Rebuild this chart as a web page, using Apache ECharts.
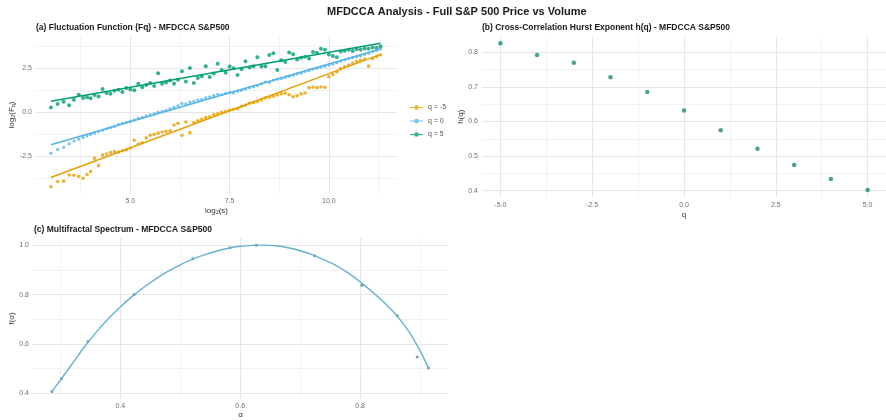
<!DOCTYPE html>
<html><head><meta charset="utf-8">
<script src="https://cdn.jsdelivr.net/npm/echarts@6/dist/echarts.min.js"></script>
<style>html,body{margin:0;padding:0;background:#fff}#c{width:886px;height:420px}</style>
</head><body><div id="c"></div>
<script>
// ---------- Panel (a): fluctuation function ----------
const logS = [3.00,3.17,3.32,3.46,3.58,3.70,3.81,3.91,4.00,4.10,4.20,4.30,4.40,4.50,4.60,4.70,4.80,4.90,5.00,5.10,5.20,5.30,5.40,5.50,5.60,5.70,5.80,5.90,6.00,6.10,6.20,6.30,6.40,6.50,6.60,6.70,6.80,6.90,7.00,7.10,7.20,7.30,7.40,7.50,7.60,7.70,7.80,7.90,8.00,8.10,8.20,8.30,8.40,8.50,8.60,8.70,8.80,8.90,9.00,9.10,9.20,9.30,9.40,9.50,9.60,9.70,9.80,9.90,10.00,10.10,10.20,10.30,10.40,10.50,10.60,10.70,10.80,10.90,11.00,11.10,11.20,11.30];
const fqNeg5 = [-4.22,-3.92,-3.90,-3.55,-3.57,-3.62,-3.74,-3.52,-3.36,
  -2.60,-3.02,-2.42,-2.36,-2.28,-2.22,-2.25,-2.18,-2.12,-2.02,
  -1.58,-1.80,-1.72,-1.45,-1.30,-1.25,-1.18,-1.12,-1.08,-1.05,
  -0.72,-0.62,-1.30,-0.55,-1.15,-0.58,-0.48,-0.40,-0.30,-0.25,
  -0.12,-0.08,0.00,0.05,0.12,0.18,0.22,0.35,0.40,0.52,
  0.55,0.62,0.70,0.82,0.86,0.92,0.98,1.05,1.08,1.00,
  0.88,0.95,1.05,1.10,1.40,1.42,1.40,1.44,1.42,2.02,
  2.15,2.30,2.48,2.60,2.68,2.78,2.90,2.95,3.02,2.62,
  3.05,3.15,3.25];
const fq0 = [-2.32,-2.10,-1.98,-1.78,-1.63,-1.52,-1.42,-1.33,-1.25,
  -1.18,-1.10,-1.02,-0.93,-0.86,-0.80,-0.70,-0.62,-0.56,-0.50,
  -0.42,-0.34,-0.28,-0.20,-0.13,-0.07,0.00,0.05,0.12,0.20,
  0.28,0.38,0.50,0.48,0.58,0.62,0.70,0.74,0.82,0.88,
  0.95,1.02,1.00,1.08,1.12,1.10,1.20,1.25,1.32,1.40,
  1.45,1.52,1.62,1.72,1.70,1.82,1.88,1.92,1.98,2.05,
  2.10,2.18,2.22,2.32,2.38,2.45,2.50,2.56,2.62,2.68,
  2.74,2.82,2.90,2.98,3.05,3.10,3.15,3.20,3.28,3.35,
  3.45,3.52,3.60];
const fq5 = [0.28,0.48,0.60,0.40,0.72,1.00,0.82,0.85,0.80,
  0.98,0.90,1.33,1.10,1.05,1.22,1.28,1.15,1.38,1.30,
  1.25,1.62,1.42,1.55,1.66,1.50,2.22,1.62,1.70,1.80,
  1.62,1.85,2.33,1.75,2.52,1.67,1.95,2.05,2.62,2.00,
  2.20,2.75,2.40,2.25,2.60,2.50,2.12,2.45,2.90,2.55,
  2.62,3.12,2.60,2.62,3.25,3.35,2.40,2.95,2.85,3.40,
  3.30,3.00,3.10,3.15,3.05,3.42,3.38,3.60,3.55,3.28,
  3.20,3.12,3.45,3.50,3.55,3.48,3.58,3.55,3.62,3.60,
  3.68,3.65,3.75];
// fitted regression lines (end points)
const fitX = [3.00, 11.30];
const fitNeg5 = [-3.69, 3.29];
const fit0 = [-1.84, 3.59];
const fit5 = [0.63, 3.92];
const aXTicks = [5, 7.5, 10];
const aXMinor = [3.75, 6.25, 8.75, 11.25];
const aYTicks = [-2.5, 0, 2.5];
const aYMinor = [-3.75, -1.25, 1.25, 3.75];

// ---------- Panel (b): Hurst exponent ----------
const qValues = [-5,-4,-3,-2,-1,0,1,2,3,4,5];
const hq = [0.826,0.792,0.770,0.728,0.685,0.632,0.575,0.521,0.474,0.434,0.402];
const bXTicks = [-5, -2.5, 0, 2.5, 5];
const bXMinor = [-3.75, -1.25, 1.25, 3.75];
const bYTicks = [0.4, 0.5, 0.6, 0.7, 0.8];
const bYMinor = [0.45, 0.55, 0.65, 0.75];

// ---------- Panel (c): multifractal spectrum ----------
const alpha = [0.286,0.302,0.346,0.423,0.521,0.583,0.627,0.724,0.803,0.862,0.895,0.914];
const fAlpha = [0.407,0.460,0.610,0.801,0.946,0.990,1.000,0.958,0.838,0.714,0.547,0.503];
const curveAlpha = [0.286,0.30,0.32,0.34,0.36,0.38,0.40,0.42,0.44,0.46,0.48,0.50,0.52,0.54,0.56,0.58,0.60,0.62,0.64,0.66,0.68,0.70,0.72,0.74,0.76,0.78,0.80,0.82,0.84,0.86,0.88,0.90,0.914];
const curveF = [0.407,0.453,0.520,0.588,0.648,0.702,0.750,0.793,0.831,0.865,0.895,0.921,0.943,0.961,0.976,0.988,0.996,1.000,1.001,0.998,0.990,0.978,0.962,0.941,0.918,0.888,0.852,0.812,0.768,0.718,0.655,0.572,0.503];
const cXTicks = [0.4, 0.6, 0.8];
const cXMinor = [0.3, 0.5, 0.7, 0.9];
const cYTicks = [0.4, 0.6, 0.8, 1.0];
const cYMinor = [0.5, 0.7, 0.9];

const FONT = '"Liberation Sans", Arial, sans-serif';
const MAJOR = '#e6e6e6', MINOR = '#f2f2f2';
const zip = (a, b) => a.map((v, i) => [v, b[i]]);

function axis(grid, min, max, majors, minors, extra) {
  const all = majors.concat(minors).sort((p, q) => p - q);
  const colors = all.map(v => majors.indexOf(v) >= 0 ? MAJOR : MINOR);
  return Object.assign({
    type: 'value', gridIndex: grid, min: min, max: max,
    axisLine: { show: false },
    axisTick: { show: false, customValues: all },
    axisLabel: { customValues: majors, formatter: v => v.toFixed(1), fontSize: 7, color: '#707070', fontFamily: FONT, margin: 4 },
    splitLine: { show: true, lineStyle: { color: colors, width: 1 } },
    nameLocation: 'middle',
    nameTextStyle: { fontSize: 8, color: '#333', fontFamily: FONT }
  }, extra || {});
}

const sub = { fontSize: 5.5, verticalAlign: 'bottom', lineHeight: 9, fontFamily: FONT, color: '#333' };

const chart = echarts.init(document.getElementById('c'), null, { renderer: 'canvas' });
chart.setOption({
  backgroundColor: '#fff',
  animation: false,
  textStyle: { fontFamily: FONT },
  title: [
    { text: 'MFDCCA Analysis - Full S&P 500 Price vs Volume', left: 327, top: 6, padding: 0,
      textStyle: { fontSize: 11, fontWeight: 'bold', color: '#1a1a1a', fontFamily: FONT } },
    { text: '(a) Fluctuation Function (Fq) - MFDCCA S&P500', left: 36, top: 23, padding: 0,
      textStyle: { fontSize: 8.5, fontWeight: 'bold', color: '#1a1a1a', fontFamily: FONT } },
    { text: '(b) Cross-Correlation Hurst Exponent h(q) - MFDCCA S&P500', left: 482, top: 23, padding: 0,
      textStyle: { fontSize: 8.5, fontWeight: 'bold', color: '#1a1a1a', fontFamily: FONT } },
    { text: '(c) Multifractal Spectrum - MFDCCA S&P500', left: 34, top: 225, padding: 0,
      textStyle: { fontSize: 8.5, fontWeight: 'bold', color: '#1a1a1a', fontFamily: FONT } }
  ],
  legend: {
    data: ['q = -5', 'q = 0', 'q = 5'],
    orient: 'vertical', left: 410, top: 104, padding: 0, itemGap: 6.5,
    itemWidth: 13, itemHeight: 6.5,
    icon: 'path://M0,4.3H20V5.7H0Z M13.5,5A3.5,3.5,0,1,1,6.5,5A3.5,3.5,0,1,1,13.5,5Z',
    textStyle: { fontSize: 7, color: '#555', fontFamily: FONT }
  },
  grid: [
    { left: 36, top: 36, width: 361, height: 158 },
    { left: 482, top: 36, width: 413.6, height: 161.3 },
    { left: 33, top: 238, width: 415, height: 163 }
  ],
  xAxis: [
    axis(0, 2.625, 11.715, aXTicks, aXMinor, { name: 'log{s|2}(s)', nameGap: 12,
      nameTextStyle: { fontSize: 8, color: '#333', fontFamily: FONT, rich: { s: sub } } }),
    axis(1, -5.5, 5.5, bXTicks, bXMinor, { name: 'q', nameGap: 13 }),
    axis(2, 0.2545, 0.9465, cXTicks, cXMinor, { name: 'α', nameGap: 12 })
  ],
  yAxis: [
    axis(0, -4.63, 4.33, aYTicks, aYMinor, { name: 'log{s|2}(F{s|q})', nameGap: 17,
      nameTextStyle: { fontSize: 8, color: '#333', fontFamily: FONT, rich: { s: sub } } }),
    axis(1, 0.3808, 0.8472, bYTicks, bYMinor, { name: 'h(q)', nameGap: 16 }),
    axis(2, 0.377, 1.0297, cYTicks, cYMinor, { name: 'f(α)', nameGap: 16 })
  ],
  series: [
    { name: 'q = -5', type: 'scatter', xAxisIndex: 0, yAxisIndex: 0, symbolSize: 3.6, data: zip(logS, fqNeg5), itemStyle: { color: '#E69F00' } },
    { name: 'q = 0', type: 'scatter', xAxisIndex: 0, yAxisIndex: 0, symbolSize: 3.2, data: zip(logS, fq0), itemStyle: { color: '#56B4E9' } },
    { name: 'q = 5', type: 'scatter', xAxisIndex: 0, yAxisIndex: 0, symbolSize: 4, data: zip(logS, fq5), itemStyle: { color: '#009E73' } },
    { name: 'fit -5', type: 'line', xAxisIndex: 0, yAxisIndex: 0, showSymbol: false, data: zip(fitX, fitNeg5), lineStyle: { color: '#E69F00', width: 1.5 } },
    { name: 'fit 0', type: 'line', xAxisIndex: 0, yAxisIndex: 0, showSymbol: false, data: zip(fitX, fit0), lineStyle: { color: '#56B4E9', width: 1.5 } },
    { name: 'fit 5', type: 'line', xAxisIndex: 0, yAxisIndex: 0, showSymbol: false, data: zip(fitX, fit5), lineStyle: { color: '#009E73', width: 1.5 } },
    { name: 'h(q)', type: 'scatter', xAxisIndex: 1, yAxisIndex: 1, symbolSize: 4.5, data: zip(qValues, hq), itemStyle: { color: '#1d8a6f' } },
    { name: 'spectrum', type: 'line', xAxisIndex: 2, yAxisIndex: 2, showSymbol: false, smooth: 0.2, data: zip(curveAlpha, curveF), lineStyle: { color: '#66b2cf', width: 1.4 } },
    { name: 'spectrum pts', type: 'scatter', xAxisIndex: 2, yAxisIndex: 2, symbolSize: 3, data: zip(alpha, fAlpha), itemStyle: { color: '#4a8aa3' } }
  ]
});
</script>
</body></html>
